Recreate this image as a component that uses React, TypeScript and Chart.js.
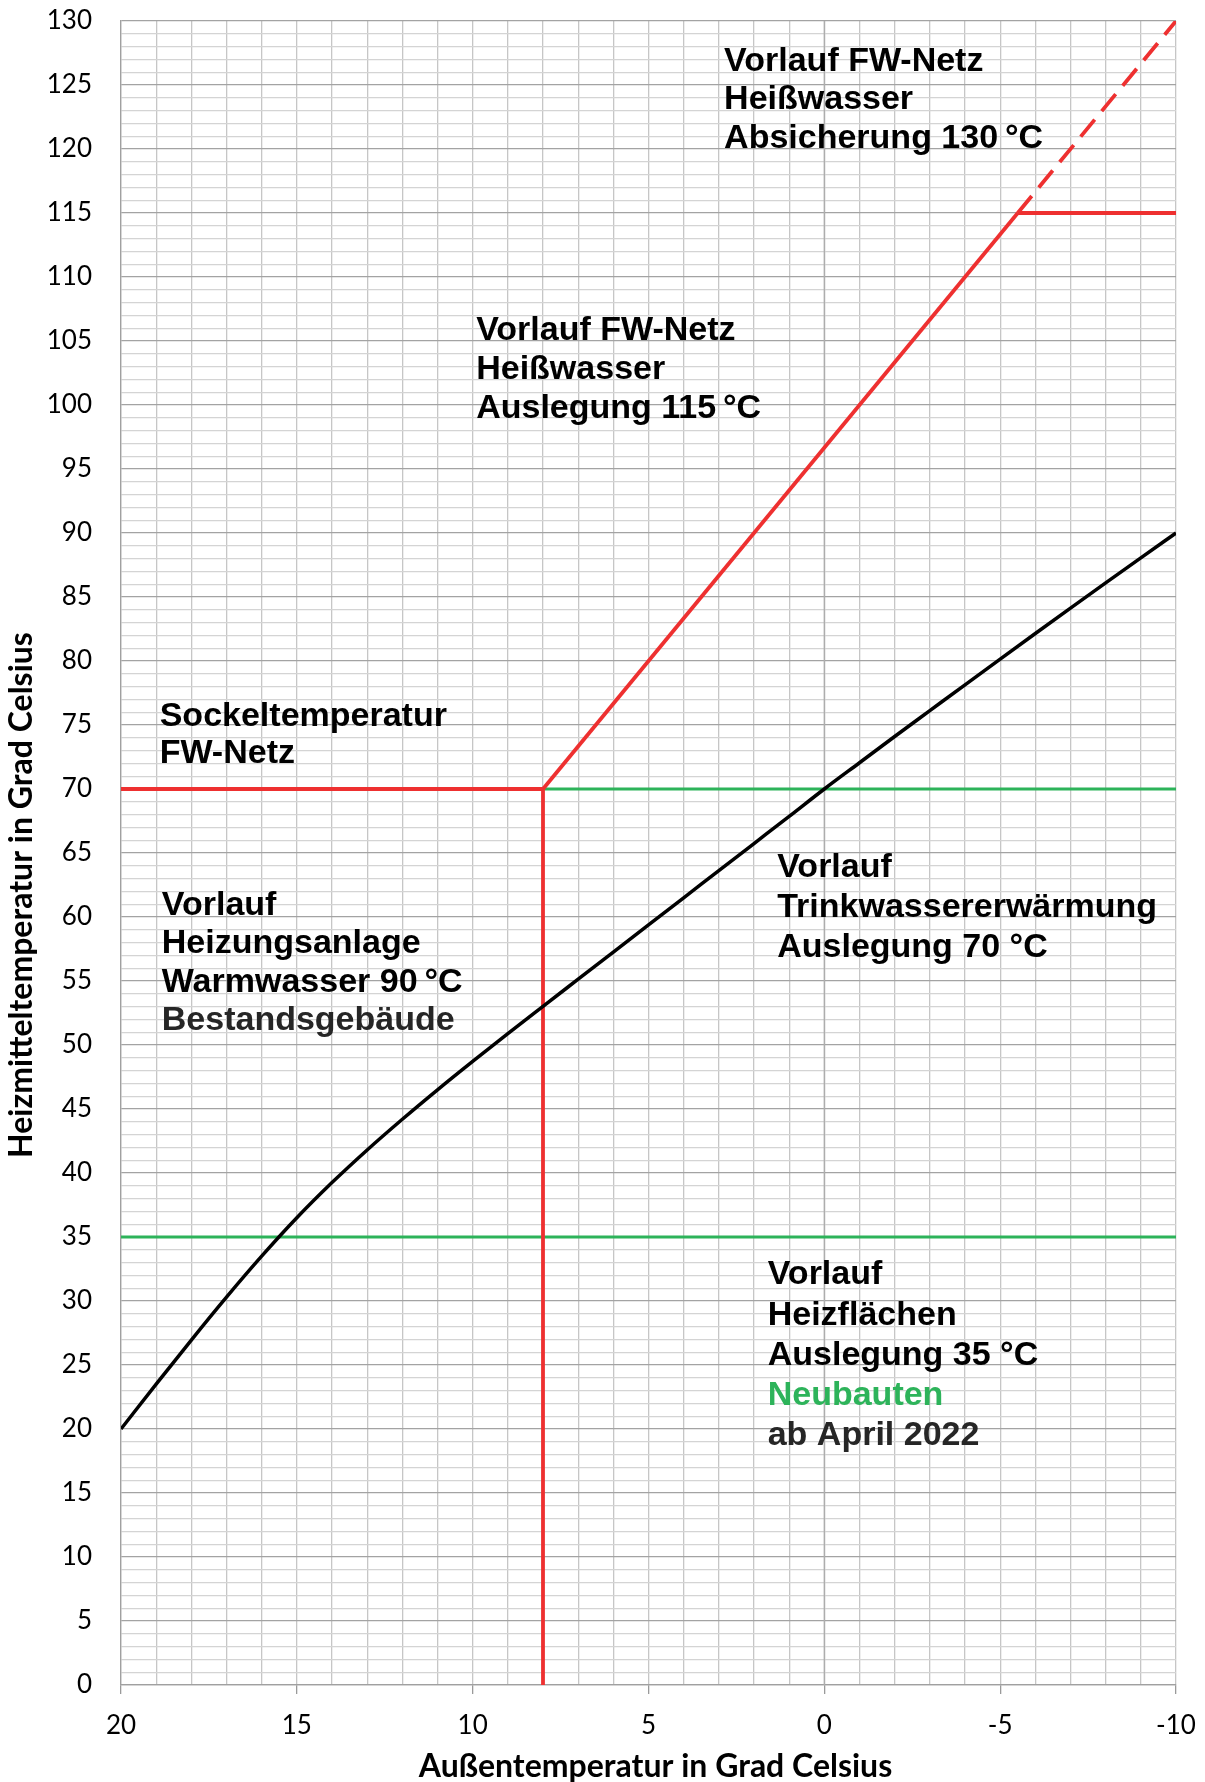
import React, { useEffect, useRef } from 'react';
import { Chart, registerables } from 'chart.js';

Chart.register(...registerables);

// ---------- data ----------
const outdoorTemps = [20, 19, 18, 17, 16, 15, 14, 13, 12, 11, 10, 9, 8, 7, 6, 5, 4, 3, 2, 1, 0, -1, -2, -3, -4, -5, -6, -7, -8, -9, -10];
const heatingFlowExisting = [20.0, 23.5, 26.95, 30.3, 33.5, 36.5, 39.25, 41.8, 44.2, 46.5, 48.72, 50.89, 53.02, 55.14, 57.26, 59.38, 61.5, 63.62, 65.74, 67.86, 70.0, 72.05, 74.1, 76.12, 78.14, 80.15, 82.15, 84.13, 86.1, 88.06, 90.0];

const baseTempX = [20, 8];
const baseTempY = [70, 70];
const baseDropX = [8, 8];
const baseDropY = [70, 0];
const networkDesignX = [8, -5.5];
const networkDesignY = [70, 115];
const networkLimitX = [-5.5, -10];
const networkLimitY = [115, 130];
const networkCapX = [-5.5, -10];
const networkCapY = [115, 115];
const dhwX = [8, -10];
const dhwY = [70, 70];
const floorHeatX = [20, -10];
const floorHeatY = [35, 35];

const xMin = -10;
const xMax = 20;
const yMin = 0;
const yMax = 130;

const xTitle = 'Außentemperatur in Grad Celsius';
const yTitle = 'Heizmitteltemperatur in Grad Celsius';

const BLACK = '#000000';
const DARK = '#262626';
const GREEN = '#2DB35A';
const RED = '#EE3030';

// annotation blocks, anchored in data coordinates (x = outdoor temp, y = first baseline)
const annotationBlocks = [
  { x: 2.85, y: 126.1, gap: 38.5, lines: [['Vorlauf FW-Netz', BLACK], ['Heißwasser', BLACK], ['Absicherung 130\u2009°C', BLACK]] },
  { x: 9.9, y: 105.05, gap: 38.7, lines: [['Vorlauf FW-Netz', BLACK], ['Heißwasser', BLACK], ['Auslegung 115\u2009°C', BLACK]] },
  { x: 18.9, y: 74.95, gap: 37.5, lines: [['Sockeltemperatur', BLACK], ['FW-Netz', BLACK]] },
  { x: 18.84, y: 60.16, gap: 38.3, lines: [['Vorlauf', BLACK], ['Heizungsanlage', BLACK], ['Warmwasser 90\u2009°C', BLACK], ['Bestandsgebäude', DARK]] },
  { x: 1.34, y: 63.1, gap: 39.8, lines: [['Vorlauf', BLACK], ['Trinkwassererwärmung', BLACK], ['Auslegung 70 °C', BLACK]] },
  { x: 1.61, y: 31.3, gap: 40.2, lines: [['Vorlauf', BLACK], ['Heizflächen', BLACK], ['Auslegung 35 °C', BLACK], ['Neubauten', GREEN], ['ab April 2022', DARK]] },
];

const zip = (xs: number[], ys: number[]) => xs.map((x, i) => ({ x, y: ys[i] }));

const overlayPlugin = {
  id: 'overlay',
  beforeDatasetsDraw(chart: any) {
    const { ctx, chartArea, scales } = chart;
    const px = scales.x.getPixelForValue(0);
    ctx.save();
    ctx.strokeStyle = '#adadad';
    ctx.lineWidth = 1.4;
    ctx.beginPath();
    ctx.moveTo(px, chartArea.top);
    ctx.lineTo(px, chartArea.bottom);
    ctx.stroke();
    ctx.restore();
  },
  afterDatasetsDraw(chart: any) {
    const { ctx, scales, chartArea } = chart;
    ctx.save();
    ctx.font = 'bold 34px "Liberation Sans", Arial, sans-serif';
    ctx.textAlign = 'left';
    ctx.textBaseline = 'alphabetic';
    for (const b of annotationBlocks) {
      const px = scales.x.getPixelForValue(b.x);
      const py = scales.y.getPixelForValue(b.y);
      b.lines.forEach(([text, color], i) => {
        ctx.fillStyle = color;
        ctx.fillText(text, px, py + i * b.gap);
      });
    }
    ctx.fillStyle = '#000';
    ctx.font = 'bold 32px Lato, "Open Sans", sans-serif';
    ctx.textAlign = 'center';
    ctx.fillText(xTitle, (chartArea.left + chartArea.right) / 2 + 7, 1777);
    ctx.translate(32, 895);
    ctx.rotate(-Math.PI / 2);
    ctx.fillText(yTitle, 0, 0);
    ctx.restore();
  },
};

export default function App() {
  const canvasRef = useRef<HTMLCanvasElement | null>(null);

  useEffect(() => {
    const canvas = canvasRef.current;
    if (!canvas) return;
    const lineDs = (data: any[], color: string, width: number, extra: any = {}) => ({
      data,
      borderColor: color,
      backgroundColor: color,
      borderWidth: width,
      pointRadius: 0,
      showLine: true,
      fill: false,
      borderCapStyle: 'butt',
      borderJoinStyle: 'miter',
      ...extra,
    });

    const chart = new Chart(canvas, {
      type: 'scatter',
      data: {
        datasets: [
          lineDs(zip(outdoorTemps, heatingFlowExisting), '#000000', 3.5, { cubicInterpolationMode: 'monotone' }),
          lineDs(zip(networkDesignX, networkDesignY), RED, 3.8),
          lineDs(zip(networkLimitX, networkLimitY), RED, 3.8, { borderDash: [22, 11] }),
          lineDs(zip(networkCapX, networkCapY), RED, 3.8),
          lineDs(zip(baseTempX, baseTempY), RED, 3.8),
          lineDs(zip(baseDropX, baseDropY), RED, 3.8),
          lineDs(zip(dhwX, dhwY), GREEN, 3.2),
          lineDs(zip(floorHeatX, floorHeatY), GREEN, 3.2),
        ],
      },
      options: {
        animation: false,
        responsive: false,
        maintainAspectRatio: false,
        devicePixelRatio: 1,
        layout: { padding: { top: 21, right: 29, left: 0, bottom: 0 } },
        plugins: { legend: { display: false }, tooltip: { enabled: false } },
        scales: {
          x: {
            type: 'linear',
            min: xMin,
            max: xMax,
            reverse: true,
            afterFit: (s: any) => { s.height = 97; s.paddingLeft = 0; s.paddingRight = 0; },
            ticks: {
              stepSize: 1,
              autoSkip: false,
              maxTicksLimit: 500,
              maxRotation: 0,
              padding: 16,
              color: '#000',
              font: { family: 'Lato', size: 26 },
              callback: (v: any) => (Number(v) % 5 === 0 ? String(v) : ''),
            },
            grid: {
              color: '#c6c6c6',
              lineWidth: 1.3,
              tickLength: 9,
              tickColor: (c: any) => (c.tick && Number(c.tick.value) % 5 === 0 ? '#9a9a9a' : 'rgba(0,0,0,0)'),
            },
            border: { color: '#a0a0a0', width: 1.3 },
          },
          y: {
            type: 'linear',
            min: yMin,
            max: yMax,
            afterFit: (s: any) => { s.width = 121; s.paddingTop = 0; s.paddingBottom = 0; },
            ticks: {
              stepSize: 1,
              autoSkip: false,
              maxTicksLimit: 500,
              padding: 29,
              color: '#000',
              font: { family: 'Lato', size: 26 },
              callback: (v: any) => (Number(v) % 5 === 0 ? String(v) : ''),
            },
            grid: {
              drawTicks: false,
              color: (c: any) => (c.tick && Number(c.tick.value) % 5 === 0 ? '#a3a3a3' : '#d4d4d4'),
              lineWidth: 1.3,
            },
            border: { color: '#a0a0a0', width: 1.3 },
          },
        },
      } as any,
      plugins: [overlayPlugin],
    });
    return () => chart.destroy();
  }, []);

  return (
    <div style={{ position: 'absolute', left: 0, top: 0, width: 1205, height: 1782, background: '#fff' }}>
      <canvas ref={canvasRef} width={1205} height={1782} style={{ display: 'block', width: 1205, height: 1782 }} />
    </div>
  );
}
